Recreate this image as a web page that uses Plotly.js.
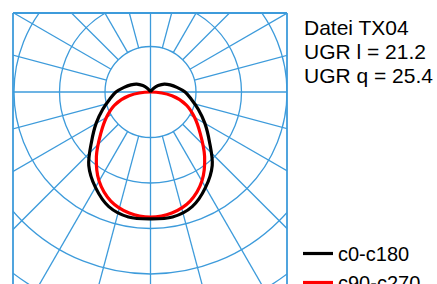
<!DOCTYPE html>
<html><head><meta charset="utf-8">
<script src="https://cdn.plot.ly/plotly-3.0.1.min.js"></script>
<style>html,body{margin:0;padding:0;background:#fff;overflow:hidden}#chart{width:437px;height:284px}</style>
</head><body><div id="chart"></div>
<script>
// Luminous intensity (cd/klm) vs. gamma angle from nadir (deg)
const gammaC0 = [0, 10, 20, 30, 40, 50, 60, 70, 80, 90, 100, 110, 120, 130, 140, 150, 160, 170, 180];
const intensC0 = [279, 279, 268, 242, 211, 169, 138, 112, 91, 76, 59, 46, 35, 22, 11, 4, 1, 0, 0];
const gammaC90 = [0, 10, 20, 30, 40, 50, 60, 70, 80, 90];
const intensC90 = [275, 270, 255, 226, 185, 143, 112, 84, 48, 0];
const seriesNames = ['c0-c180', 'c90-c270'];
// polar grid (cd/klm rings, gamma spokes)
const circleLevels = [100, 200, 300, 400, 500, 600];
const spokeAngles = [15, 30, 45, 60, 75, 105, 120, 135, 150, 165, 195, 210, 225, 240, 255, 285, 300, 315, 330, 345];
const axisAngles = [0, 90];
const infoLines = ['Datei TX04', 'UGR l = 21.2', 'UGR q = 25.4'];

const W = 437, H = 284;
const plotL = 13, plotR = 287, plotT = 13, plotB = 284;
const cx = 150.5, cy = 92;
const pxPerUnit = 0.455;
const gridColor = '#3d9bdb';

function toXY(gam, val) {
  const x = [], y = [];
  for (let i = gam.length - 1; i >= 0; i--) {
    const a = gam[i] * Math.PI / 180;
    x.push(-val[i] * Math.sin(a)); y.push(-val[i] * Math.cos(a));
  }
  for (let i = 1; i < gam.length; i++) {
    const a = gam[i] * Math.PI / 180;
    x.push(val[i] * Math.sin(a)); y.push(-val[i] * Math.cos(a));
  }
  return {x, y};
}

const c0 = toXY(gammaC0, intensC0);
const c90 = toXY(gammaC90, intensC90);

// red drawn first so black lies on top; legend order kept via legendrank
const traces = [
  {x: c90.x, y: c90.y, mode: 'lines', name: seriesNames[1], legendrank: 2,
   line: {color: '#ff0000', width: 3.2, shape: 'spline', smoothing: 1}},
  {x: c0.x, y: c0.y, mode: 'lines', name: seriesNames[0], legendrank: 1,
   line: {color: '#000000', width: 3.2, shape: 'spline', smoothing: 1}}
];

const shapes = [];
const gl = {color: gridColor, width: 1.3};
circleLevels.forEach(r => shapes.push({type: 'circle', xref: 'x', yref: 'y', x0: -r, x1: r, y0: -r, y1: r, line: gl, layer: 'below'}));
const rMin = circleLevels[0], rMax = 1000;
spokeAngles.forEach(g => {
  const a = g * Math.PI / 180;
  shapes.push({type: 'line', xref: 'x', yref: 'y', x0: rMin * Math.sin(a), y0: -rMin * Math.cos(a), x1: rMax * Math.sin(a), y1: -rMax * Math.cos(a), line: gl, layer: 'below'});
});
axisAngles.forEach(g => {
  const a = g * Math.PI / 180;
  shapes.push({type: 'line', xref: 'x', yref: 'y', x0: -rMax * Math.sin(a), y0: rMax * Math.cos(a), x1: rMax * Math.sin(a), y1: -rMax * Math.cos(a), line: gl, layer: 'below'});
});
const fl = {color: gridColor, width: 1.8};
shapes.push({type: 'line', xref: 'paper', yref: 'paper', x0: 0, x1: 0, y0: 0, y1: 1, line: fl});
shapes.push({type: 'line', xref: 'paper', yref: 'paper', x0: 1, x1: 1, y0: 0, y1: 1, line: fl});
shapes.push({type: 'line', xref: 'paper', yref: 'paper', x0: 0, x1: 1, y0: 1, y1: 1, line: fl});

const pw = plotR - plotL, ph = plotB - plotT;
const px2paperX = p => (p - plotL) / pw;
const px2paperY = p => (plotB - p) / ph;

const infoFont = {family: 'Liberation Sans, Arial, sans-serif', size: 21, color: '#000'};
const legendFont = {family: 'Liberation Sans, Arial, sans-serif', size: 20, color: '#000'};
const lineCenters = [27.5, 51.5, 75.5];

const layout = {
  width: W, height: H,
  margin: {l: plotL, r: W - plotR, t: plotT, b: H - plotB, pad: 0, autoexpand: false},
  paper_bgcolor: '#fff', plot_bgcolor: '#fff',
  showlegend: true,
  xaxis: {range: [(plotL - cx) / pxPerUnit, (plotR - cx) / pxPerUnit], visible: false, fixedrange: true},
  yaxis: {range: [(cy - plotB) / pxPerUnit, (cy - plotT) / pxPerUnit], visible: false, fixedrange: true},
  shapes: shapes,
  annotations: infoLines.map((t, i) => ({
    xref: 'paper', yref: 'paper', x: px2paperX(302), y: px2paperY(lineCenters[i]),
    xanchor: 'left', yanchor: 'middle', align: 'left', showarrow: false,
    text: t, font: infoFont
  })),
  legend: {
    x: px2paperX(298), y: px2paperY(234), xanchor: 'left', yanchor: 'top',
    bgcolor: 'rgba(0,0,0,0)', font: legendFont, traceorder: 'normal'
  },
  hovermode: false
};

Plotly.newPlot('chart', traces, layout, {staticPlot: true, displayModeBar: false});
</script>
</body></html>
